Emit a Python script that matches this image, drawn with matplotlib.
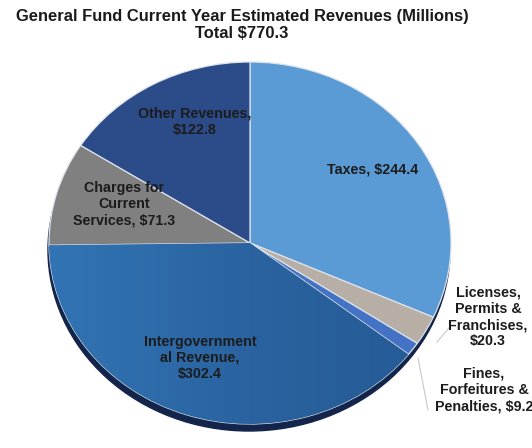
import matplotlib.pyplot as plt
import numpy as np

plt.rcParams['font.family'] = ['Liberation Sans', 'DejaVu Sans']

categories = ['Taxes', 'Licenses, Permits & Franchises', 'Fines, Forfeitures & Penalties',
              'Intergovernmental Revenue', 'Charges for Current Services', 'Other Revenues']
revenues = [244.4, 20.3, 9.2, 302.4, 71.3, 122.8]
labels = ['Taxes, $244.4',
          'Licenses,\nPermits &\nFranchises,\n$20.3',
          'Fines,\nForfeitures &\nPenalties, $9.2',
          'Intergovernment\nal Revenue,\n$302.4',
          'Charges for\nCurrent\nServices, $71.3',
          'Other Revenues,\n$122.8']
colors = ['#5b9bd5', '#b7afa6', '#4472c4', '#2d69a8', '#808080', '#2c4b89']

W, H = 532, 448
CX, CY, RX, RY = 250, 243, 201, 181


def px(x, y):
    # pixel position -> data position (unit pie centred at 0,0)
    return (x - CX) / RX, (CY - y) / RY


fig = plt.figure(figsize=(W / 100, H / 100), dpi=100)
ax = fig.add_axes([0, 0, 1, 1])

# dark rim under the pie
shadow = plt.matplotlib.patches.Ellipse((-0.005, -7 / RY), 2.0, 2.0, color='#13254a', zorder=1)
ax.add_patch(shadow)

wedges, _ = ax.pie(revenues, colors=colors, startangle=90, counterclock=False,
                   radius=1, center=(0, 0),
                   wedgeprops=dict(edgecolor='#dde2ea', linewidth=0.9))
for w in wedges:
    w.set_zorder(2)

# soft left-to-right shading on the intergovernmental slice
grad = np.linspace(0, 1, 256).reshape(1, -1)
cmap = plt.matplotlib.colors.LinearSegmentedColormap.from_list('ig', ['#3274b4', '#2a63a0', '#255a94'])
im = ax.imshow(grad, cmap=cmap, extent=(-1, 1, -1, 1), aspect='auto', zorder=2.5)
im.set_clip_path(wedges[3])

ax.set_xlim(px(0, 0)[0], px(W, 0)[0])
ax.set_ylim(px(0, H)[1], px(0, 0)[1])
ax.set_aspect('auto')
ax.axis('off')

fig.text(242 / W, 1 - 17 / H, 'General Fund Current Year Estimated Revenues (Millions)',
         ha='center', va='center', fontsize=11.9, fontweight='bold', color='#1a1a1a')
fig.text(242 / W, 1 - 33 / H, 'Total $770.3',
         ha='center', va='center', fontsize=11.9, fontweight='bold', color='#1a1a1a')

label_pos = [(373, 170), (488, 317), (484, 390), (200, 358), (124, 204), (195, 122)]
for lab, (x, y) in zip(labels, label_pos):
    ax.text(*px(x, y), lab, ha='center', va='center', fontsize=10.3, fontweight='bold',
            color='#1c1c1c', linespacing=1.2, zorder=5)

# leader lines for the two thin slices
ax.plot(*zip(px(437, 342), px(449, 328)), color='#c8c8c8', lw=0.8, zorder=4)
ax.plot(*zip(px(418, 358), px(428, 410)), color='#c8c8c8', lw=0.8, zorder=4)

fig.savefig('out.png', dpi=100, facecolor='white')
